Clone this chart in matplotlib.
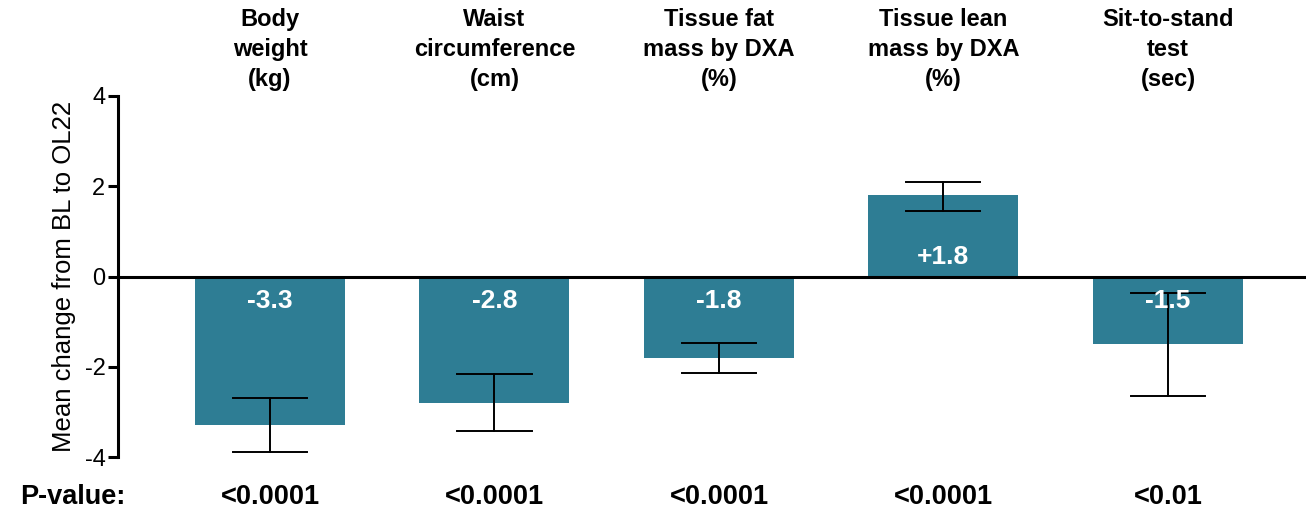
import matplotlib
matplotlib.use("Agg")
import matplotlib.pyplot as plt
import matplotlib.transforms as mtransforms

plt.rcParams['font.family'] = ['Liberation Sans', 'DejaVu Sans']

categories = ["Body\nweight\n(kg)", "Waist\ncircumference\n(cm)", "Tissue fat\nmass by DXA\n(%)",
              "Tissue lean\nmass by DXA\n(%)", "Sit-to-stand\ntest\n(sec)"]
values = [-3.3, -2.8, -1.8, 1.8, -1.5]
value_labels = ["-3.3", "-2.8", "-1.8", "+1.8", "-1.5"]
ci_upper = [-2.69, -2.17, -1.48, 2.09, -0.37]
ci_lower = [-3.90, -3.43, -2.13, 1.45, -2.64]
p_values = ["<0.0001", "<0.0001", "<0.0001", "<0.0001", "<0.01"]
yticks = [-4, -2, 0, 2, 4]

W, H = 1306, 513
fig = plt.figure(figsize=(W / 100, H / 100), dpi=100)
ax = fig.add_axes([118 / W, 1 - 457 / H, (W - 118) / W, (457 - 96) / H])

x = list(range(len(values)))
color = '#2E7D94'
ax.bar(x, values, width=0.668, color=color, zorder=2)

for xi, v, lo, hi in zip(x, values, ci_lower, ci_upper):
    ax.plot([xi, xi], [lo, hi], color='black', lw=1.4, zorder=4)
    for yy in (lo, hi):
        ax.plot([xi - 0.165, xi + 0.165], [yy, yy], color='black', lw=1.4, zorder=4)

ax.axhline(0, color='black', lw=2.2, zorder=3)

ax.set_xlim(-0.677, 4.615)
ax.set_ylim(-4, 4)
ax.set_yticks(yticks)
ax.set_yticklabels([str(t) for t in yticks], fontsize=17)
ax.set_xticks([])
for s in ['top', 'right', 'bottom']:
    ax.spines[s].set_visible(False)
ax.spines['left'].set_linewidth(2.2)
ax.tick_params(axis='y', length=7, width=2.2, pad=2)
ax.set_ylabel("Mean change from BL to OL22", fontsize=18.5, labelpad=6)

for xi, v, lab in zip(x, values, value_labels):
    off = -24 if v < 0 else 19
    ax.annotate(lab, xy=(xi, 0), xytext=(0, off * 0.72), textcoords='offset points',
                ha='center', va='center', color='white', fontsize=19, fontweight='bold', zorder=5)

trans = mtransforms.blended_transform_factory(ax.transData, fig.transFigure)
for xi, cat in zip(x, categories):
    ax.text(xi, 1 - 91 / H, cat, transform=trans, ha='center', va='bottom',
            fontsize=17, fontweight='bold', linespacing=1.38)
for xi, p in zip(x, p_values):
    ax.text(xi, 1 - 497 / H, p, transform=trans, ha='center', va='center',
            fontsize=19.5, fontweight='bold')
fig.text(20 / W, 1 - 497 / H, "P-value:", ha='left', va='center', fontsize=19.5, fontweight='bold')

fig.savefig("out.png", dpi=100)
